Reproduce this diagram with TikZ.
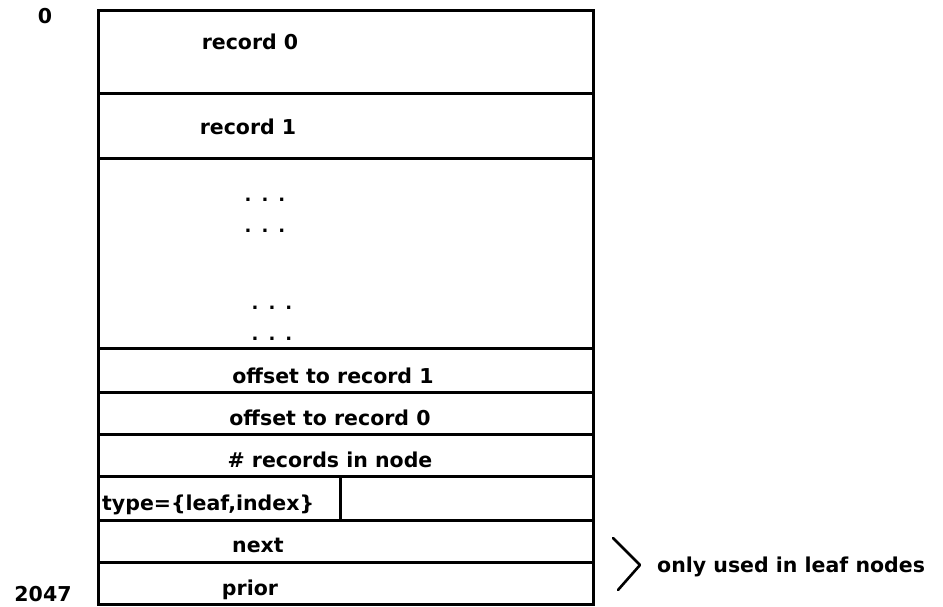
\documentclass[tikz,border=0pt]{standalone}
\usepackage{fontspec}
\setmainfont{DejaVu Sans}
\begin{document}
\begin{tikzpicture}[x=1pt,y=-1pt,
  rowbox/.style={draw, line width=3pt, rectangle, inner sep=0pt,
                 anchor=north west, minimum width=495pt},
  lbl/.style={font=\bfseries\fontsize{20.5}{24}\selectfont, inner sep=0pt, anchor=base},
  side/.style={font=\bfseries\fontsize{20.5}{24}\selectfont, inner sep=0pt, anchor=base},
  dotrow/.style={font=\bfseries\fontsize{18}{22}\selectfont, inner sep=0pt, anchor=base},
  brace/.style={line width=2.6pt, line cap=round, line join=round}]
\useasboundingbox (0,0) rectangle (943,607);

% page layout: stacked fields, address 0 at the top
\node[rowbox, minimum height=83pt]  (rec0)  at (97,9)   {};
\node[rowbox, minimum height=65pt]  (rec1)  at (97,92)  {};
\node[rowbox, minimum height=190pt] (free)  at (97,157) {};
\node[rowbox, minimum height=44pt]  (off1)  at (97,347) {};
\node[rowbox, minimum height=42pt]  (off0)  at (97,391) {};
\node[rowbox, minimum height=42pt]  (count) at (97,433) {};
\node[rowbox, minimum height=44pt, minimum width=242pt] (type) at (97,475) {};
\node[rowbox, minimum height=44pt, minimum width=253pt] (spare) at (339,475) {};
\node[rowbox, minimum height=42pt]  (next)  at (97,519) {};
\node[rowbox, minimum height=42pt]  (prior) at (97,561) {};

% field labels
\node[lbl] (trec0)  at (250,50)  {record 0};
\node[lbl] (trec1)  at (248,135) {record 1};
\node[dotrow] (dotsA) at (265,201) {.\hspace{10pt}.\hspace{10pt}.};
\node[dotrow] (dotsB) at (265,232) {.\hspace{10pt}.\hspace{10pt}.};
\node[dotrow] (dotsC) at (272,309) {.\hspace{10pt}.\hspace{10pt}.};
\node[dotrow] (dotsD) at (272,340) {.\hspace{10pt}.\hspace{10pt}.};
\node[lbl] (toff1)  at (333,383) {offset to record 1};
\node[lbl] (toff0)  at (330,425) {offset to record 0};
\node[lbl] (tcount) at (330,467) {\# records in node};
\node[lbl, anchor=base west] (ttype) at (102,510) {type=\{leaf,index\}};
\node[lbl] (tnext)  at (258,552) {next};
\node[lbl] (tprior) at (250,595) {prior};

% byte offsets
\node[side] (addr0)    at (45,24)  {0};
\node[side] (addrlast) at (43,601) {2047};

% bracket for the last two fields
\coordinate (bTop) at (613,538);
\coordinate (bTip) at (640,565);
\coordinate (bBot) at (618,590);
\draw[brace] (bTop) -- (bTip) -- (bBot);
\node[side, anchor=base west] (note) at (657,572) {only used in leaf nodes};
\end{tikzpicture}
\end{document}
